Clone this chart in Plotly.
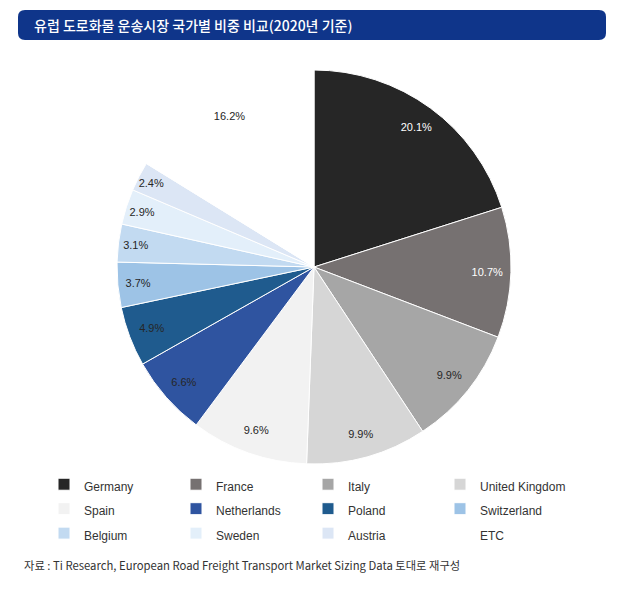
import plotly.graph_objects as go

countries = ["Germany", "France", "Italy", "United Kingdom", "Spain", "Netherlands",
             "Poland", "Switzerland", "Belgium", "Sweden", "Austria", "ETC"]
shares = [20.1, 10.7, 9.9, 9.9, 9.6, 6.6, 4.9, 3.7, 3.1, 2.9, 2.4, 16.2]
colors = ["#262626", "#767171", "#a6a6a6", "#d6d6d6", "#f2f2f2", "#2f54a0",
          "#1f5b8e", "#9dc3e6", "#c2daf1", "#e3effa", "#dce6f5", "#ffffff"]
label_colors = ["#ffffff", "#ffffff"] + ["#262626"] * 10

# figure sits inside the page body (8px offset), so work in reference pixels
OFF = 8
W, H = 643 - OFF, 593 - 2 * OFF


def px(x):
    return (x - OFF) / W


def py(y):
    return 1 - (y - OFF) / H


cx, cy, r = 314, 267, 197
dom = dict(x=[px(cx - r), px(cx + r)], y=[py(cy + r), py(cy - r)])

legend_labels = [f"<span style='font-size:12px'>{c}</span>" for c in countries]

fig = go.Figure()
fig.add_trace(go.Pie(
    labels=legend_labels,
    values=shares,
    sort=False,
    direction="clockwise",
    rotation=0,
    marker=dict(colors=colors, line=dict(color="#ffffff", width=1)),
    textinfo="none",
    hoverinfo="text+value",
    hovertext=countries,
    domain=dom,
))
# transparent ring carrying the percentage labels near the outer edge
fig.add_trace(go.Pie(
    labels=legend_labels,
    values=shares,
    sort=False,
    direction="clockwise",
    rotation=0,
    hole=0.76,
    marker=dict(colors=["rgba(0,0,0,0)"] * len(shares), line=dict(width=0)),
    texttemplate="%{value:.1f}%",
    textposition="inside",
    insidetextorientation="horizontal",
    textfont=dict(family="Liberation Sans, Arial, sans-serif", size=11, color=label_colors),
    hoverinfo="skip",
    showlegend=False,
    domain=dom,
))

# rounded title banner
x0, x1, y0, y1, rr = px(18), px(606), py(10), py(40), 7
rx, ry = rr / W, rr / H
path = (f"M {x0+rx},{y0} L {x1-rx},{y0} Q {x1},{y0} {x1},{y0-ry} "
        f"L {x1},{y1+ry} Q {x1},{y1} {x1-rx},{y1} L {x0+rx},{y1} "
        f"Q {x0},{y1} {x0},{y1+ry} L {x0},{y0-ry} Q {x0},{y0} {x0+rx},{y0} Z")

fig.update_layout(
    width=W, height=H,
    margin=dict(l=0, r=0, t=0, b=0),
    paper_bgcolor="#ffffff",
    plot_bgcolor="#ffffff",
    uniformtext=dict(minsize=11, mode="show"),
    shapes=[dict(type="path", xref="paper", yref="paper", path=path,
                 fillcolor="#0f358a", line=dict(width=0), layer="below")],
    annotations=[
        dict(text="유럽 도로화물 운송시장 국가별 비중 비교(2020년 기준)",
             xref="paper", yref="paper", x=px(32), y=py(25),
             xanchor="left", yanchor="middle", showarrow=False,
             font=dict(family="Noto Sans CJK KR", size=14, color="#ffffff", weight=500)),
        dict(text="자료 : Ti Research, European Road Freight Transport Market Sizing Data 토대로 재구성",
             xref="paper", yref="paper", x=px(22), y=py(565),
             xanchor="left", yanchor="middle", showarrow=False,
             font=dict(family="Noto Sans CJK KR", size=11.3, color="#333333")),
    ],
    legend=dict(
        orientation="h",
        x=px(44), y=py(467), xanchor="left", yanchor="top",
        entrywidth=87, entrywidthmode="pixels",
        itemwidth=30,
        font=dict(family="Liberation Sans, Arial, sans-serif", size=16.5, color="#333333"),
        bgcolor="rgba(0,0,0,0)",
    ),
    showlegend=True,
)

fig.write_html("out.html")
